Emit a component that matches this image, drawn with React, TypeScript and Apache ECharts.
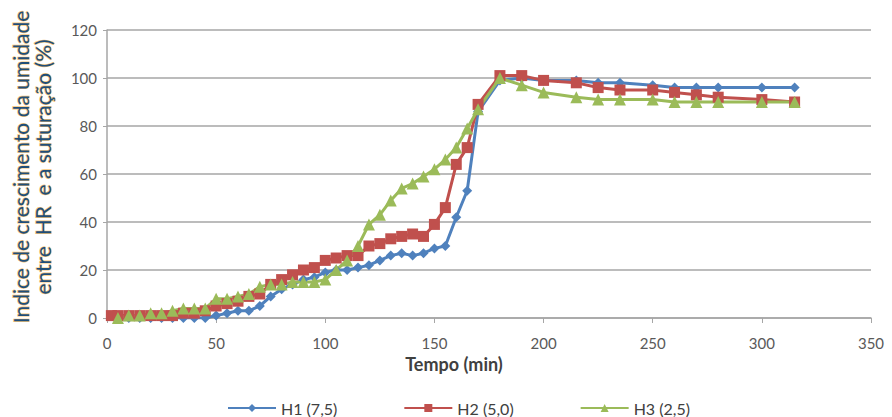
import React, { useEffect, useRef } from "react";
import * as echarts from "echarts";

const timesMain = [5, 10, 15, 20, 25, 30, 35, 40, 45, 50, 55, 60, 65, 70, 75, 80, 85, 90, 95, 100, 105, 110, 115, 120, 125, 130, 135, 140, 145, 150, 155, 160, 165, 170, 180, 190, 200, 215, 225, 235, 250, 260, 270, 280, 300, 315];
const timesH2 = [2, ...timesMain];

const h1Values = [-1, 0, 0, 0, 0, 0, 0, 0, 0, 1, 2, 3, 3, 5, 9, 12, 14, 16, 17, 19, 20, 20, 21, 22, 24, 26, 27, 26, 27, 29, 30, 42, 53, 86, 99, 100, 99, 99, 98, 98, 97, 96, 96, 96, 96, 96];
const h2Values = [1, 1, 1, 1, 1, 1, 1, 2, 2, 3, 5, 6, 7, 9, 10, 14, 16, 18, 20, 21, 24, 25, 26, 26, 30, 31, 33, 34, 35, 34, 39, 46, 64, 71, 89, 101, 101, 99, 98, 96, 95, 95, 94, 93, 92, 91, 90];
const h3Values = [0, 1, 1, 2, 2, 3, 4, 4, 4, 8, 8, 9, 10, 13, 14, 14, 15, 15, 15, 16, 20, 24, 30, 39, 43, 49, 54, 56, 59, 62, 66, 71, 79, 87, 100, 97, 94, 92, 91, 91, 91, 90, 90, 90, 90, 90];

const seriesNames = ["H1 (7,5)", "H2 (5,0)", "H3 (2,5)"];
const xTicks = { min: 0, max: 350, interval: 50 };
const yTicks = { min: 0, max: 120, interval: 20 };

const FONT = "Lato, 'Open Sans', sans-serif";

function zip(t: number[], v: number[]) {
  return t.map((x, i) => [x, v[i]]);
}

export default function App() {
  const ref = useRef<HTMLDivElement>(null);
  useEffect(() => {
    if (!ref.current) return;
    const chart = echarts.init(ref.current, undefined, { renderer: "svg" });
    const mk = (name: string, data: number[][], color: string, symbol: string, size: number) => ({
      name,
      type: "line",
      data,
      symbol,
      symbolSize: size,
      showSymbol: true,
      lineStyle: { color, width: 3 },
      itemStyle: { color },
      z: 2,
    });
    chart.setOption({
      animation: false,
      backgroundColor: "#ffffff",
      textStyle: { fontFamily: FONT },
      grid: { left: 107, right: 21, top: 30, bottom: 99, containLabel: false, outerBoundsMode: "none" },
      legend: {
        left: 222,
        top: 395,
        itemWidth: 48,
        itemHeight: 10,
        itemGap: 66,
        textStyle: { fontFamily: FONT, fontSize: 16, color: "#404040" },
        data: seriesNames,
      },
      xAxis: {
        type: "value",
        min: xTicks.min,
        max: xTicks.max,
        interval: xTicks.interval,
        name: "Tempo (min)",
        nameLocation: "middle",
        nameGap: 33,
        nameTextStyle: {
          fontFamily: FONT,
          fontSize: 18,
          fontWeight: "bold",
          color: "#404040",
          padding: [0, 70, 0, 0],
        },
        axisLine: { show: true, lineStyle: { color: "#A6A6A6", width: 1.5 } },
        axisTick: { show: true, length: 5, lineStyle: { color: "#A6A6A6" } },
        axisLabel: { fontFamily: FONT, fontSize: 15, color: "#595959", margin: 17 },
        splitLine: { show: false },
      },
      yAxis: {
        type: "value",
        min: yTicks.min,
        max: yTicks.max,
        interval: yTicks.interval,
        name: "Indice de crescimento da umidade\nentre  HR  e a suturação (%)",
        nameLocation: "middle",
        nameRotate: 90,
        nameGap: 54,
        nameTextStyle: {
          fontFamily: FONT,
          fontSize: 21,
          color: "#1F4E79",
          lineHeight: 22,
          textBorderColor: "#F6C77A",
          textBorderWidth: 1.2,
          padding: [0, 0, 0, 14],
        },
        axisLine: { show: true, lineStyle: { color: "#A6A6A6", width: 1.5 } },
        axisTick: { show: true, length: 4, lineStyle: { color: "#A6A6A6" } },
        axisLabel: { fontFamily: FONT, fontSize: 15, color: "#595959", margin: 10 },
        splitLine: { show: true, lineStyle: { color: "#A6A6A6", width: 1.5 } },
      },
      series: [
        mk(seriesNames[0], zip(timesMain, h1Values), "#4F81BD", "diamond", 10),
        mk(seriesNames[1], zip(timesH2, h2Values), "#C0504D", "rect", 11),
        mk(seriesNames[2], zip(timesMain, h3Values), "#9BBB59", "triangle", 12),
      ],
    });
    return () => chart.dispose();
  }, []);
  return (
    <div
      ref={ref}
      style={{ position: "fixed", left: 0, top: 0, width: 892, height: 417 }}
    />
  );
}
